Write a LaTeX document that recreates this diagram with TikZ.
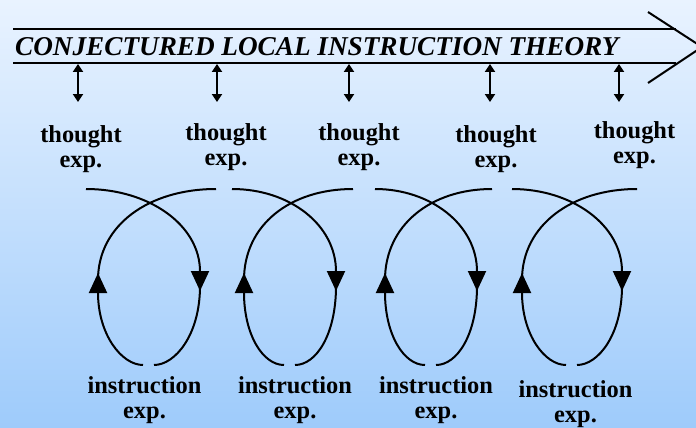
\documentclass[tikz,border=0pt]{standalone}
\usepackage{fontspec}
\setmainfont{Liberation Serif}
\usetikzlibrary{arrows.meta}
\definecolor{skytop}{RGB}{233,243,255}
\definecolor{skybot}{RGB}{158,203,251}
\tikzset{
  lbl/.style={font=\fontsize{24.4}{25}\selectfont\bfseries, align=center, inner sep=0pt, anchor=north},
  tie/.style={line width=2pt, {Triangle[width=10pt,length=8pt]}-{Triangle[width=10pt,length=8pt]}},
  cyc/.style={line width=2pt},
  cyctip/.style={cyc, -{Triangle[width=18pt,length=20pt]}},
}
\begin{document}
\begin{tikzpicture}[x=1pt,y=-1pt]
  \useasboundingbox (0,0) rectangle (696,428);
  \clip (0,0) rectangle (696,428);
  \shade[top color=skytop,bottom color=skybot] (0,0) rectangle (696,428);
  % theory arrow
  \draw[line width=2pt] (13,29) -- (676,29) (13,63) -- (676,63);
  \draw[line width=2pt] (648,12) -- (702,47) -- (648,83);
  \node[font=\fontsize{27.2}{28}\selectfont\bfseries\itshape, anchor=base west, inner sep=0pt] (theory) at (15,56) {CONJECTURED LOCAL INSTRUCTION THEORY};
  % links down to the thought experiments
  \foreach \n/\x in {1/78,2/217,3/349,4/490,5/619}{
    \coordinate (up\n) at (\x,64);
    \coordinate (dn\n) at (\x,102);
    \draw[tie] (up\n) -- (dn\n);
  }
  \foreach \n/\x/\y in {1/81/125.5,2/226/123.5,3/359/123.5,4/496/125.5,5/634.5/121.5}
    \node[lbl] (th\n) at (\x,\y) {thought\\exp.};
  % cycles
  \foreach \c/\w/\l/\r in {149/51/63/67,290/46/58/63,431/46/56/61,572/50/60/65}{
    \draw[cyctip] (\c-\l,189) .. controls (\c,189) and (\c+\w,225) .. (\c+\w,291);
    \draw[cyc] (\c+\w,286) .. controls (\c+\w,335) and (\c+26,365) .. (\c+5,365);
    \draw[cyctip] (\c-6,365) .. controls (\c-27,365) and (\c-\w,335) .. (\c-\w,273);
    \draw[cyc] (\c-\w,280) .. controls (\c-\w,225) and (\c,189) .. (\c+\r,189);
  }
  \foreach \n/\x/\y in {1/144.5/376.5,2/295/376.5,3/436/376.5,4/575.5/380.5}
    \node[lbl] (in\n) at (\x,\y) {instruction\\exp.};
\end{tikzpicture}
\end{document}
